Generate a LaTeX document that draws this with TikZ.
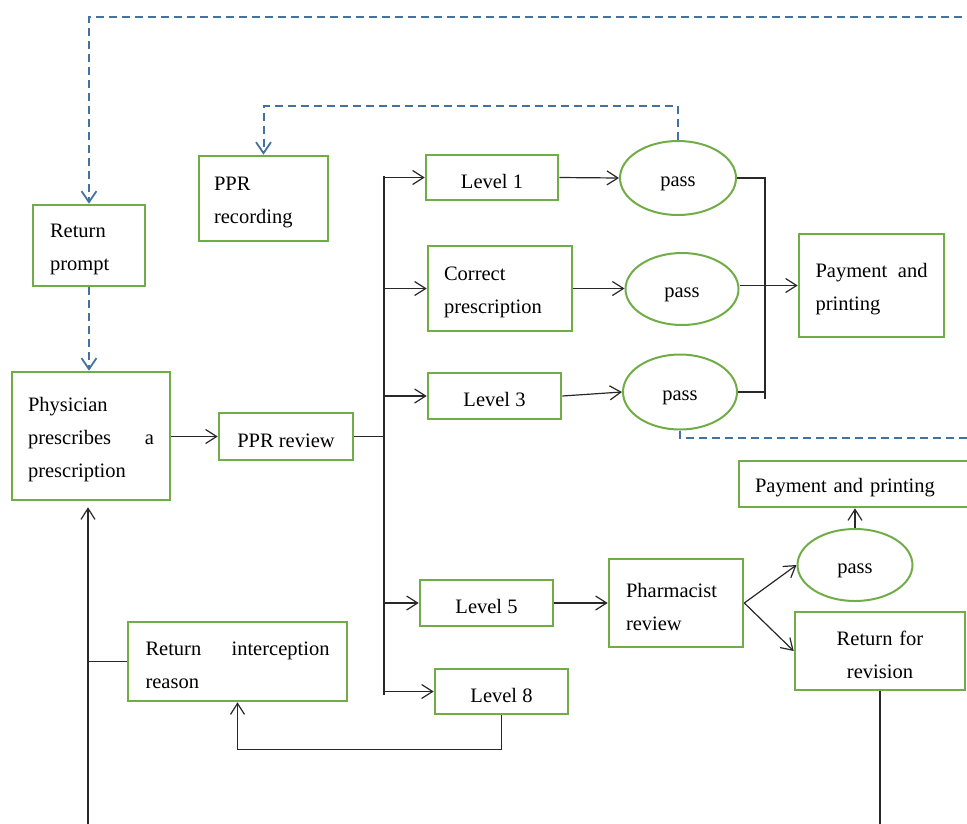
\documentclass[tikz,border=0pt]{standalone}
\usepackage{fontspec}
\setmainfont{Liberation Serif}
\usetikzlibrary{arrows.meta,shapes.geometric}
\definecolor{boxgreen}{RGB}{112,173,71}
\definecolor{dashblue}{RGB}{68,114,160}
\definecolor{linegray}{RGB}{40,40,40}
\begin{document}
\begin{tikzpicture}[x=1pt,y=-1pt,
  font=\fontsize{20.5}{33}\selectfont,
  box/.style={draw=boxgreen,line width=2.6pt,inner sep=0pt,text height=22pt},
  oval/.style={draw=boxgreen,line width=2pt,ellipse,inner sep=0pt,text height=22pt},
  conn/.style={draw=linegray,line width=1.2pt},
  arr/.style={conn,-{Straight Barb[length=11pt,width=14pt,line width=1.2pt]}},
  dsh/.style={draw=dashblue,line width=2pt,dash pattern=on 8pt off 5pt},
  darr/.style={dsh,-{Straight Barb[length=11pt,width=15pt,line width=1.8pt]}}
]
\path[use as bounding box,clip] (0,0) rectangle (967,823);

% upper-left nodes
\node[box,minimum width=112pt,minimum height=81pt,text width=78pt,align=left] (ret) at (89,245.5) {Return\\prompt};
\node[box,minimum width=129pt,minimum height=85pt,text width=99pt,align=left] (rec) at (263.5,198.5) {PPR\\recording};
\node[box,minimum width=158pt,minimum height=128pt,text width=126pt,align=left] (phys) at (91,436) {Physician\\prescribes\hfill a\\prescription};
\node[box,minimum width=134pt,minimum height=47pt] (pprrev) at (286,436.5) {PPR review};

% levels
\node[box,minimum width=132pt,minimum height=45pt] (l1) at (492,177.5) {Level 1};
\node[box,minimum width=144pt,minimum height=85pt,text width=112pt,align=left] (cp) at (500,288.5) {Correct\\prescription};
\node[box,minimum width=133pt,minimum height=46pt] (l3) at (494.5,396) {Level 3};
\node[box,minimum width=133pt,minimum height=46pt] (l5) at (486.5,603) {Level 5};
\node[box,minimum width=133pt,minimum height=45pt] (l8) at (501.5,691.5) {Level 8};

% passes
\node[oval,minimum width=116pt,minimum height=74pt] (p1) at (678,178) {pass};
\node[oval,minimum width=113pt,minimum height=72pt] (p2) at (682,289) {pass};
\node[oval,minimum width=114pt,minimum height=75pt] (p3) at (680,392) {pass};
\node[box,minimum width=145pt,minimum height=103pt,text width=112pt,align=left] (pp1) at (871.5,285.5) {Payment\hfill and\\printing};

% lower right
\node[box,minimum width=236pt,minimum height=46pt,text width=204pt,align=left] (pp2) at (857,484) {Payment and printing};
\node[oval,minimum width=115pt,minimum height=72pt] (p4) at (855,565) {pass};
\node[box,minimum width=134pt,minimum height=88pt,text width=100pt,align=left] (ph) at (676,603) {Pharmacist\\review};
\node[box,minimum width=170pt,minimum height=78pt,text width=150pt,align=center] (rfr) at (880,651) {Return for\\revision};

% lower left
\node[box,minimum width=219pt,minimum height=79pt,text width=184pt,align=left] (rir) at (237.5,661.5) {Return\hfill interception\\reason};

% coordinates
\coordinate (bT) at (384,176);
\coordinate (bB) at (384,695);
\coordinate (bRb) at (765,399);
\coordinate (topR) at (975,17);
\coordinate (midR) at (975,438);
\coordinate (rfrB) at (881,830);
\coordinate (lB) at (88,830);

% main flow
\draw[arr] (phys.east |- pprrev.west) -- (pprrev.west);
\draw[conn] (pprrev.east) -- (pprrev.east -| bT);
\draw[conn] (bT) -- (bB);
\draw[arr] (l1.west -| bT) -- (l1.west);
\draw[arr] (cp.west -| bT) -- (cp.west);
\draw[arr] (l3.west -| bT) -- (l3.west);
\draw[arr] (l5.west -| bT) -- (l5.west);
\draw[arr] (l8.west -| bT) -- (l8.west);

\draw[arr] (l1.east) -- (p1.west);
\draw[arr] (cp.east) -- (cp.east -| p2.west);
\draw[arr] (l3.east) -- (p3.west);
\draw[conn] (p1.east) -| (bRb);
\draw[conn] (p3.east) -- (p3.east -| bRb);
\draw[arr] (p2.east |- pp1.west) -- (pp1.west);

% dashed feedback
\draw[darr] (topR) -| (ret.north);
\draw[darr] (ret.south) -- (ret.south |- phys.north);
\draw[darr] (p1.north) -- ++(0,-34) -| (rec.north);
\draw[dsh] (p3.south) |- (midR);

% lower right flow
\draw[arr] (l5.east) -- (ph.west);
\draw[arr] (ph.east) -- (p4.west);
\draw[arr] (ph.east) -- (rfr.west);
\draw[arr] (p4.north) -- (p4.north |- pp2.south);
\draw[conn] (rfr.south) -- (rfr.south |- rfrB);

% lower left flow
\draw[arr,shorten >=6pt] (lB) -- (lB |- phys.south);
\draw[conn] (rir.west) -- (rir.west -| lB);
\draw[arr] (l8.south) -- ++(0,34) -| (rir.south);
\end{tikzpicture}
\end{document}
